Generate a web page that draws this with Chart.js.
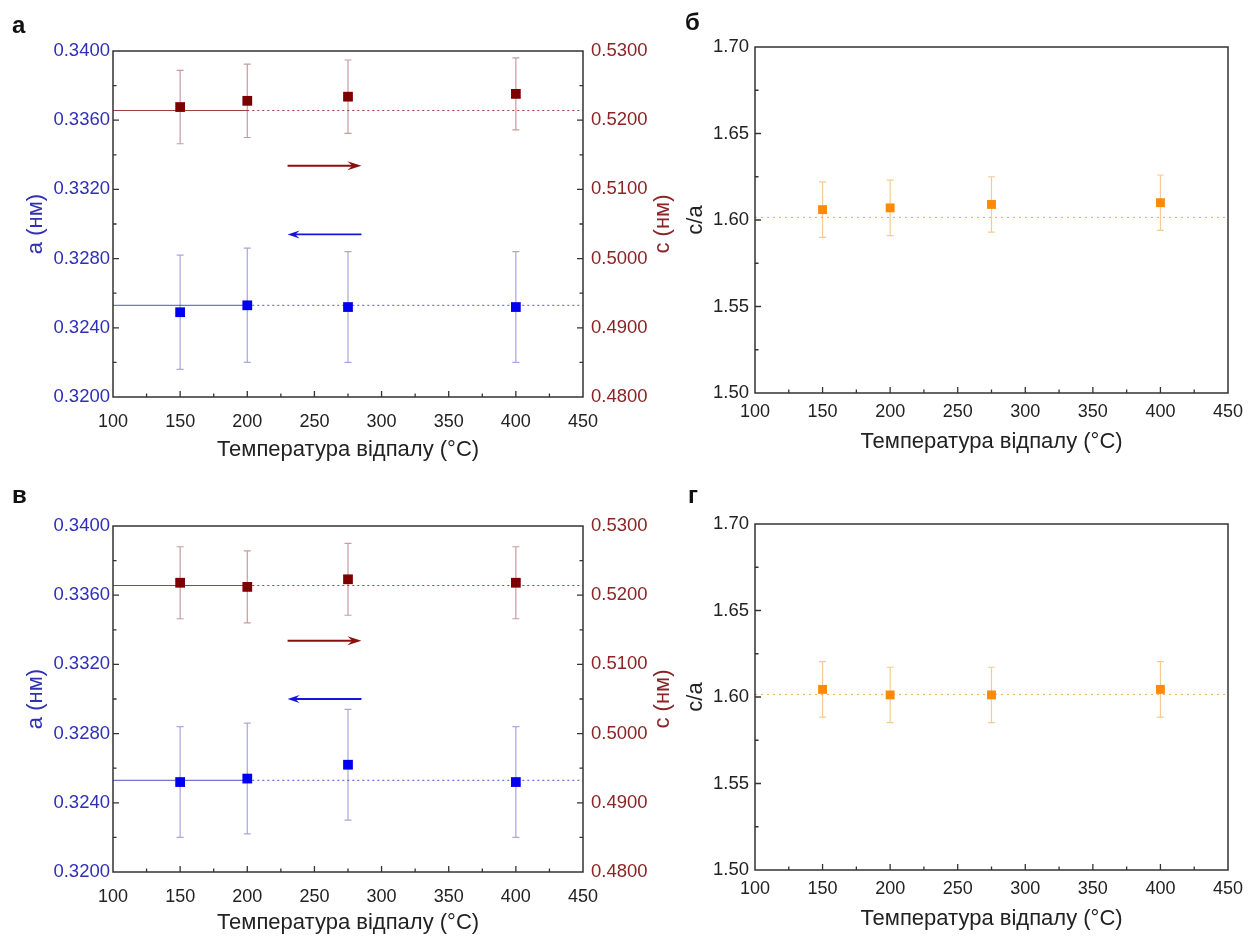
<!DOCTYPE html>
<html><head><meta charset="utf-8">
<script src="https://cdn.jsdelivr.net/npm/chart.js@4"></script>
<style>
body{margin:0;background:#fff;width:1258px;height:940px;position:relative;overflow:hidden;font-family:'Liberation Sans',Arial,sans-serif}
.p{position:absolute}
.lbl{position:absolute;font:bold 24px 'Liberation Sans',Arial,sans-serif;color:#111;line-height:24px}
</style></head><body>
<div class="p" style="left:0;top:0"><canvas id="ca" width="680" height="472"></canvas></div>
<div class="p" style="left:680px;top:0"><canvas id="cb" width="578" height="472"></canvas></div>
<div class="p" style="left:0;top:472px"><canvas id="cv" width="680" height="468"></canvas></div>
<div class="p" style="left:680px;top:472px"><canvas id="cg" width="578" height="468"></canvas></div>
<div class="lbl" style="left:12px;top:13px">а</div>
<div class="lbl" style="left:685px;top:10px">б</div>
<div class="lbl" style="left:12px;top:483px">в</div>
<div class="lbl" style="left:688px;top:483px">г</div>
<script>
// ---------- data ----------
const temps = [150, 200, 275, 400];
const xTickVals = [100, 150, 200, 250, 300, 350, 400, 450];
const aTickVals = [0.3200, 0.3240, 0.3280, 0.3320, 0.3360, 0.3400];
const cTickVals = [0.4800, 0.4900, 0.5000, 0.5100, 0.5200, 0.5300];
const ratioTickVals = [1.50, 1.55, 1.60, 1.65, 1.70];

// panel а
const aValsA = [0.3249, 0.3253, 0.3252, 0.3252];
const aErrA = [0.0033, 0.0033, 0.0032, 0.0032];
const cValsA = [0.5219, 0.5228, 0.5234, 0.5238];
const cErrA = [0.0053, 0.0053, 0.0053, 0.0052];
// panel б
const ratioB = [1.606, 1.607, 1.609, 1.610];
const ratioErrB = [0.016, 0.016, 0.016, 0.016];
// panel в
const aValsV = [0.3252, 0.3254, 0.3262, 0.3252];
const aErrV = [0.0032, 0.0032, 0.0032, 0.0032];
const cValsV = [0.5218, 0.5212, 0.5223, 0.5218];
const cErrV = [0.0052, 0.0052, 0.0052, 0.0052];
// panel г
const ratioG = [1.6044, 1.6012, 1.6012, 1.6044];
const ratioErrG = [0.016, 0.016, 0.016, 0.016];

// reference (dotted) levels
const aRef = 0.3253;
const cRef = 0.5214;
const ratioRef = 1.6015;

// arrow annotations (data units)
const arrowSpan = [230, 285];
const redArrowLevel = 0.5134;
const blueArrowLevelA = 0.3294;
const blueArrowLevelV = 0.3300;

const xTitle = 'Температура відпалу (°C)';

// ---------- style ----------
const FONT = "'Liberation Sans', Arial, sans-serif";
const DARK = '#222';
const BLUE_TXT = '#2f2fb8';
const RED_TXT = '#8b2424';
const BLUE = '#0000f0';
const RED = '#7d0000';
const ORANGE = '#ff8a0a';

Chart.defaults.font.family = FONT;
Chart.defaults.animation = false;

const decor = {
  id: 'decor',
  beforeDatasetsDraw(chart) {
    const ctx = chart.ctx;
    chart.data.datasets.forEach((ds, di) => {
      if (!ds.errors) return;
      const meta = chart.getDatasetMeta(di);
      const ys = chart.scales[ds.yAxisID];
      ctx.save();
      ctx.strokeStyle = ds.errColor; ctx.lineWidth = 1.2;
      meta.data.forEach((pt, i) => {
        const v = ds.data[i].y, e = ds.errors[i];
        const y1 = ys.getPixelForValue(v + e), y2 = ys.getPixelForValue(v - e);
        const x = pt.x;
        ctx.beginPath();
        ctx.moveTo(x, y1); ctx.lineTo(x, y2);
        ctx.moveTo(x - 3.5, y1); ctx.lineTo(x + 3.5, y1);
        ctx.moveTo(x - 3.5, y2); ctx.lineTo(x + 3.5, y2);
        ctx.stroke();
      });
      ctx.restore();
    });
  },
  afterDatasetsDraw(chart, args, opts) {
    const ctx = chart.ctx;
    (opts.arrows || []).forEach(a => {
      const xs = chart.scales.x.getPixelForValue(a.from);
      const xt = chart.scales.x.getPixelForValue(a.to);
      const y = chart.scales[a.axis].getPixelForValue(a.level);
      const d = Math.sign(xt - xs), L = a.len, W = a.half;
      ctx.save();
      ctx.strokeStyle = a.color; ctx.fillStyle = a.color; ctx.lineWidth = a.width;
      ctx.beginPath(); ctx.moveTo(xs, y); ctx.lineTo(xt - d * L * 0.6, y); ctx.stroke();
      ctx.beginPath();
      ctx.moveTo(xt, y);
      ctx.lineTo(xt - d * L, y - W);
      ctx.lineTo(xt - d * L * 0.65, y);
      ctx.lineTo(xt - d * L, y + W);
      ctx.closePath(); ctx.fill();
      ctx.restore();
    });
  },
  afterDraw(chart, args, opts) {
    const ctx = chart.ctx, ca = chart.chartArea;
    ctx.save();
    ctx.strokeStyle = '#333'; ctx.lineWidth = 1.5;
    ctx.strokeRect(ca.left, ca.top, ca.right - ca.left, ca.bottom - ca.top);
    ctx.lineWidth = 1.3;
    Object.values(chart.scales).forEach(s => {
      const vals = s.ticks.map(t => t.value);
      const marks = [];
      for (let i = 0; i < vals.length; i++) {
        if (i > 0 && i < vals.length - 1) marks.push([vals[i], 6]);
        if (i < vals.length - 1) marks.push([(vals[i] + vals[i + 1]) / 2, 3.5]);
      }
      ctx.beginPath();
      marks.forEach(([v, len]) => {
        const p = s.getPixelForValue(v);
        if (s.position === 'bottom') { ctx.moveTo(p, ca.bottom); ctx.lineTo(p, ca.bottom - len); }
        else if (s.position === 'left') { ctx.moveTo(ca.left, p); ctx.lineTo(ca.left + len, p); }
        else if (s.position === 'right') { ctx.moveTo(ca.right, p); ctx.lineTo(ca.right - len, p); }
      });
      ctx.stroke();
    });
    if (opts.rightTitle) {
      const rt = opts.rightTitle;
      ctx.translate(chart.scales.y2.right - rt.inset, (ca.top + ca.bottom) / 2);
      ctx.rotate(-Math.PI / 2);
      ctx.font = '22px ' + FONT;
      ctx.fillStyle = rt.color; ctx.textAlign = 'center'; ctx.textBaseline = 'middle';
      ctx.fillText(rt.text, 0, 0);
    }
    ctx.restore();
  }
};

function setTicks(vals) { return s => { s.ticks = vals.map(v => ({ value: v })); }; }

function pts(vals) { return temps.map((t, i) => ({ x: t, y: vals[i] })); }
function refLine(level, from, to, axis, color, dash) {
  return { data: [{ x: from, y: level }, { x: to, y: level }], yAxisID: axis, showLine: true,
    borderColor: color, borderWidth: 1, borderDash: dash, pointRadius: 0, order: 5 };
}
function series(vals, errs, axis, color, errColor, r) {
  return { data: pts(vals), errors: errs, errColor: errColor, yAxisID: axis, pointStyle: 'rect',
    pointRadius: r, backgroundColor: color, borderColor: color, borderWidth: 0, order: 1 };
}

const noGrid = { display: false, drawTicks: false, tickLength: 0 };

function xScale(h, labelPad, titlePadBottom) {
  return {
    type: 'linear', position: 'bottom', min: xTickVals[0], max: xTickVals[xTickVals.length - 1],
    afterBuildTicks: setTicks(xTickVals), afterFit: s => { s.height = h; },
    grid: noGrid, border: { display: false },
    ticks: { color: DARK, font: { size: 18 }, padding: labelPad, maxRotation: 0, callback: v => String(v) },
    title: { display: true, text: xTitle, color: DARK, font: { size: 22 }, padding: { top: 0, bottom: titlePadBottom } }
  };
}

function latticeChart(id, geo, aVals, aErr, cVals, cErr, blueLevel) {
  const x0 = xTickVals[0], x1 = xTickVals[xTickVals.length - 1];
  new Chart(document.getElementById(id), {
    type: 'scatter',
    data: { datasets: [
      refLine(aRef, x0, 200, 'y', 'rgba(50,50,200,0.85)', []),
      refLine(aRef, 200, x1, 'y', 'rgba(50,50,200,0.85)', [2, 3]),
      refLine(cRef, x0, 200, 'y2', 'rgba(140,30,30,0.85)', []),
      refLine(cRef, 200, x1, 'y2', 'rgba(140,30,30,0.85)', [2, 3]),
      series(aVals, aErr, 'y', BLUE, 'rgba(120,120,200,0.65)', 6.9),
      series(cVals, cErr, 'y2', RED, 'rgba(160,90,90,0.6)', 6.9)
    ] },
    options: {
      responsive: false, devicePixelRatio: 1, animation: false,
      layout: { padding: { top: geo.top, left: 0, right: 0, bottom: 0 } },
      plugins: {
        legend: { display: false }, tooltip: { enabled: false },
        decor: {
          arrows: [
            { from: arrowSpan[0], to: arrowSpan[1], axis: 'y2', level: redArrowLevel, color: '#8b0f0f', width: 2, len: 14, half: 4.5 },
            { from: arrowSpan[1], to: arrowSpan[0], axis: 'y', level: blueLevel, color: '#1414e0', width: 1.8, len: 12, half: 4 }
          ],
          rightTitle: { text: 'с (нм)', color: RED_TXT, inset: 17 }
        }
      },
      scales: {
        x: xScale(geo.xh, geo.lp, geo.tpb),
        y: {
          type: 'linear', position: 'left', min: aTickVals[0], max: aTickVals[aTickVals.length - 1],
          afterBuildTicks: setTicks(aTickVals), afterFit: s => { s.width = 113; },
          grid: noGrid, border: { display: false },
          ticks: { color: BLUE_TXT, font: { size: 18.5 }, padding: 3, callback: v => v.toFixed(4) },
          title: { display: true, text: 'a (нм)', color: BLUE_TXT, font: { size: 22 }, padding: { top: 23, bottom: 0 } }
        },
        y2: {
          type: 'linear', position: 'right', min: cTickVals[0], max: cTickVals[cTickVals.length - 1],
          afterBuildTicks: setTicks(cTickVals), afterFit: s => { s.width = 97; },
          grid: noGrid, border: { display: false },
          ticks: { color: RED_TXT, font: { size: 18.5 }, padding: 8, callback: v => v.toFixed(4) }
        }
      }
    },
    plugins: [decor]
  });
}

function ratioChart(id, geo, vals, errs) {
  const x0 = xTickVals[0], x1 = xTickVals[xTickVals.length - 1];
  new Chart(document.getElementById(id), {
    type: 'scatter',
    data: { datasets: [
      refLine(ratioRef, x0, x1, 'y', 'rgba(240,160,60,0.9)', [2, 4]),
      series(vals, errs, 'y', ORANGE, 'rgba(240,190,120,0.8)', 6.3)
    ] },
    options: {
      responsive: false, devicePixelRatio: 1, animation: false,
      layout: { padding: { top: geo.top, left: 0, right: 30, bottom: 0 } },
      plugins: { legend: { display: false }, tooltip: { enabled: false }, decor: {} },
      scales: {
        x: xScale(geo.xh, geo.lp, geo.tpb),
        y: {
          type: 'linear', position: 'left', min: ratioTickVals[0], max: ratioTickVals[ratioTickVals.length - 1],
          afterBuildTicks: setTicks(ratioTickVals), afterFit: s => { s.width = 75; },
          grid: noGrid, border: { display: false },
          ticks: { color: DARK, font: { size: 18.5 }, padding: 6, callback: v => v.toFixed(2) },
          title: { display: true, text: 'c/a', color: DARK, font: { size: 22 }, padding: { top: 3, bottom: 0 } }
        }
      }
    },
    plugins: [decor]
  });
}

latticeChart('ca', { top: 51, xh: 75, lp: 14, tpb: 9 }, aValsA, aErrA, cValsA, cErrA, blueArrowLevelA);
ratioChart('cb', { top: 47, xh: 79, lp: 8, tpb: 17 }, ratioB, ratioErrB);
latticeChart('cv', { top: 54, xh: 68, lp: 14, tpb: 4 }, aValsV, aErrV, cValsV, cErrV, blueArrowLevelV);
ratioChart('cg', { top: 52, xh: 70, lp: 8, tpb: 8 }, ratioG, ratioErrG);
</script>
</body></html>
